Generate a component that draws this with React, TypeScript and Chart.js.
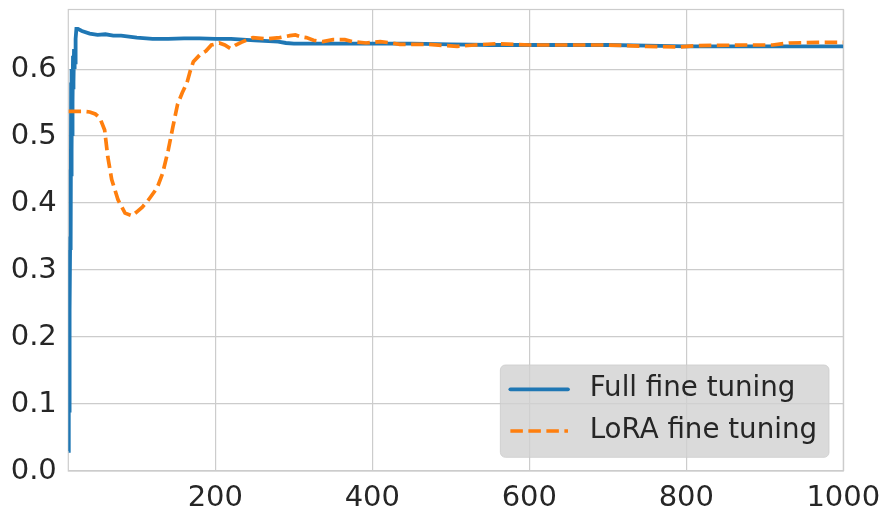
import React, { useEffect, useRef } from "react";
import { Chart, registerables } from "chart.js";

Chart.register(...registerables);

const seriesLabels = ["Full fine tuning", "LoRA fine tuning"];

const fullX = [13.0, 13.3, 13.6, 13.9, 14.2, 14.5, 14.8, 15.1, 15.4, 15.7, 16.0, 16.3, 16.6, 16.9, 17.2, 17.5, 17.8, 18.1, 18.4, 18.7, 19.0, 19.3, 19.6, 20.0, 20.5, 21.0, 21.5, 22, 23, 25, 30, 40, 50, 60, 70, 80, 100, 120, 140, 160, 180, 200, 220, 250, 280, 290, 300, 350, 400, 450, 500, 550, 600, 650, 700, 750, 800, 850, 900, 1000];
const fullY = [0.03, 0.09, 0.09, 0.23, 0.12, 0.33, 0.24, 0.35, 0.33, 0.45, 0.34, 0.58, 0.44, 0.6, 0.48, 0.6, 0.5, 0.59, 0.55, 0.62, 0.57, 0.6, 0.58, 0.63, 0.6, 0.62, 0.61, 0.645, 0.66, 0.66, 0.657, 0.653, 0.651, 0.652, 0.65, 0.65, 0.647, 0.645, 0.645, 0.646, 0.646, 0.645, 0.645, 0.643, 0.641, 0.639, 0.638, 0.638, 0.638, 0.638, 0.637, 0.636, 0.636, 0.636, 0.636, 0.635, 0.634, 0.634, 0.634, 0.634];

const loraX = [13, 20, 30, 40, 47, 53, 59, 63, 68, 76, 85, 94, 100, 107, 115, 126, 133, 140, 146, 152, 158, 164, 168, 172, 180, 188, 195, 205, 212, 219, 226, 233, 248, 265, 282, 295, 302, 310, 316, 325, 337, 350, 365, 375, 392, 410, 425, 435, 470, 508, 530, 559, 600, 650, 700, 749, 791, 813, 877, 910, 931, 970, 1000];
const loraY = [0.537, 0.537, 0.537, 0.536, 0.533, 0.527, 0.509, 0.469, 0.435, 0.405, 0.385, 0.381, 0.387, 0.394, 0.405, 0.423, 0.445, 0.479, 0.514, 0.548, 0.565, 0.58, 0.597, 0.611, 0.621, 0.627, 0.636, 0.639, 0.636, 0.631, 0.636, 0.64, 0.647, 0.645, 0.647, 0.65, 0.651, 0.648, 0.647, 0.643, 0.641, 0.644, 0.644, 0.641, 0.639, 0.641, 0.639, 0.637, 0.637, 0.634, 0.636, 0.638, 0.636, 0.636, 0.636, 0.634, 0.633, 0.635, 0.636, 0.636, 0.639, 0.64, 0.64];

const xTickValues = [200, 400, 600, 800, 1000];
const yTickValues = [0, 0.1, 0.2, 0.3, 0.4, 0.5, 0.6];

const X_MIN = 12.7;
const X_MAX = 1000;
const Y_MIN = 0;
const Y_MAX = 0.689;

const BLUE = "#1f77b4";
const ORANGE = "#ff7f0e";
const TEXT = "#262626";
const GRID = "#cccccc";
const FONT = "'DejaVu Sans', sans-serif";

const frameAndLegend = {
  id: "frameAndLegend",
  beforeDatasetsDraw(chart: any) {
    const { ctx, chartArea } = chart;
    ctx.save();
    ctx.strokeStyle = GRID;
    ctx.lineWidth = 1.2;
    ctx.strokeRect(chartArea.left, chartArea.top, chartArea.right - chartArea.left, chartArea.bottom - chartArea.top);
    ctx.restore();
  },
  afterDatasetsDraw(chart: any) {
    const { ctx, chartArea } = chart;
    const ds = chart.data.datasets;
    ctx.save();
    ctx.font = `27.7px ${FONT}`;
    const textW = Math.max(...ds.map((d: any) => ctx.measureText(d.label).width));
    const padL = 10;
    const lineLen = 57.6;
    const gap = 21.7;
    const padR = 12;
    const w = padL + lineLen + gap + textW + padR;
    const h = 92.3;
    const right = chartArea.right - 14.3;
    const bottom = chartArea.bottom - 13.7;
    const x = right - w;
    const y = bottom - h;
    const r = 5;
    ctx.beginPath();
    ctx.moveTo(x + r, y);
    ctx.lineTo(x + w - r, y);
    ctx.arcTo(x + w, y, x + w, y + r, r);
    ctx.lineTo(x + w, y + h - r);
    ctx.arcTo(x + w, y + h, x + w - r, y + h, r);
    ctx.lineTo(x + r, y + h);
    ctx.arcTo(x, y + h, x, y + h - r, r);
    ctx.lineTo(x, y + r);
    ctx.arcTo(x, y, x + r, y, r);
    ctx.closePath();
    ctx.fillStyle = "rgba(209,209,209,0.8)";
    ctx.fill();
    ctx.strokeStyle = "rgba(204,204,204,0.8)";
    ctx.lineWidth = 1;
    ctx.stroke();

    const rows = [y + 24.3, y + 66];
    ds.forEach((d: any, i: number) => {
      const cy = rows[i];
      ctx.beginPath();
      ctx.strokeStyle = d.borderColor;
      ctx.lineWidth = d.borderWidth;
      ctx.lineCap = d.borderDash && d.borderDash.length ? "butt" : "round";
      ctx.setLineDash(d.borderDash || []);
      ctx.moveTo(x + padL, cy);
      ctx.lineTo(x + padL + lineLen, cy);
      ctx.stroke();
      ctx.setLineDash([]);
      ctx.fillStyle = TEXT;
      ctx.textAlign = "left";
      ctx.textBaseline = "middle";
      ctx.fillText(d.label, x + padL + lineLen + gap, cy);
    });
    ctx.restore();
  },
};

export default function App() {
  const canvasRef = useRef<HTMLCanvasElement | null>(null);

  useEffect(() => {
    if (!canvasRef.current) return;
    const chart = new Chart(canvasRef.current, {
      type: "line",
      data: {
        datasets: [
          {
            label: seriesLabels[0],
            data: fullX.map((x, i) => ({ x, y: fullY[i] })),
            borderColor: BLUE,
            borderWidth: 3.8,
            pointRadius: 0,
            tension: 0,
            order: 1,
          },
          {
            label: seriesLabels[1],
            data: loraX.map((x, i) => ({ x, y: loraY[i] })),
            borderColor: ORANGE,
            borderWidth: 3.7,
            borderDash: [12.5, 5.5],
            pointRadius: 0,
            tension: 0,
            order: 0,
          },
        ],
      },
      options: {
        responsive: false,
        animation: false,
        layout: { padding: { left: 0, right: 47.7, top: 9.5, bottom: 0 } },
        plugins: {
          legend: { display: false },
          tooltip: { enabled: false },
        },
        scales: {
          x: {
            type: "linear",
            min: X_MIN,
            max: X_MAX,
            afterBuildTicks: (scale: any) => {
              scale.ticks = xTickValues.map((v) => ({ value: v }));
            },
            afterFit: (scale: any) => {
              scale.height = 49;
              scale.paddingLeft = 0;
              scale.paddingRight = 0;
            },
            grid: { color: GRID, lineWidth: 1.2, drawTicks: false },
            border: { display: false },
            ticks: {
              color: TEXT,
              font: { family: FONT, size: 29 },
              padding: 10,
              maxRotation: 0,
              callback: (v: any) => String(v),
            },
          },
          y: {
            type: "linear",
            min: Y_MIN,
            max: Y_MAX,
            afterBuildTicks: (scale: any) => {
              scale.ticks = yTickValues.map((v) => ({ value: v }));
            },
            afterFit: (scale: any) => {
              scale.width = 68.3;
              scale.paddingTop = 0;
              scale.paddingBottom = 0;
            },
            grid: { color: GRID, lineWidth: 1.2, drawTicks: false },
            border: { display: false },
            ticks: {
              color: TEXT,
              font: { family: FONT, size: 29 },
              padding: 11.5,
              callback: (v: any) => Number(v).toFixed(1),
            },
          },
        },
      },
      plugins: [frameAndLegend],
    });
    return () => chart.destroy();
  }, []);

  return (
    <div style={{ position: "fixed", left: 0, top: 0, width: 891, height: 520, background: "#fff" }}>
      <canvas ref={canvasRef} width={891} height={520} />
    </div>
  );
}
